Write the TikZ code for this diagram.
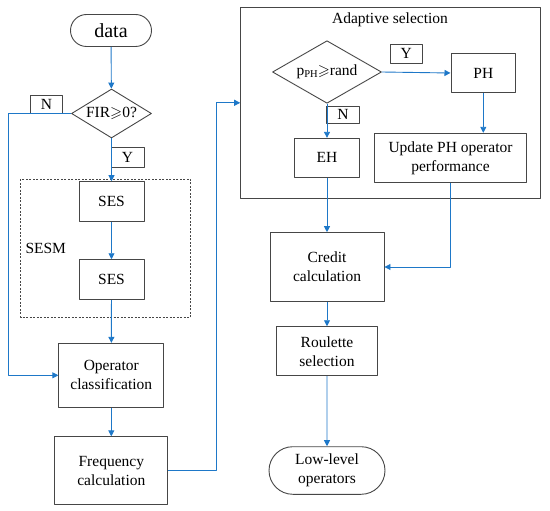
\documentclass[tikz,border=0pt]{standalone}
\usepackage{amssymb}
\usepackage{fontspec}
\setmainfont{Liberation Serif}
\usetikzlibrary{arrows.meta,shapes.geometric,shapes.misc}
\definecolor{flowblue}{RGB}{30,120,200}
\definecolor{edgegray}{RGB}{70,70,70}
\begin{document}
\begin{tikzpicture}[x=1pt, y=-1pt, line join=round, font=\fontsize{15.5}{19}\selectfont, >={Triangle[length=6pt,width=6pt]},
		box/.style={draw=edgegray, line width=0.9pt, align=center, inner sep=0pt},
		term/.style={box, rounded rectangle},
		dec/.style={box, diamond, aspect=1.6},
		lab/.style={draw=edgegray, line width=0.8pt, inner sep=0pt},
		arr/.style={->, draw=flowblue, line width=0.9pt}]
		\useasboundingbox (0,0) rectangle (550,511);
		% left column
		\node[term, minimum width=81pt, minimum height=32pt, font=\fontsize{20}{24}\selectfont] (data) at (111,30.5) {data};
		\node[dec, minimum width=80pt, minimum height=49pt] (fir) at (111.5,113.5) {FIR$\geqslant$0?};
		\node[lab, minimum width=32pt, minimum height=18pt] (firN) at (46.5,104) {N};
		\node[lab, minimum width=33pt, minimum height=19.6pt] (firY) at (127.5,157.5) {Y};
		\draw[edgegray, dashed, dash pattern=on 2pt off 1.5pt, line width=0.8pt] (20.7,179.3) rectangle (190.7,317.3);
		\node[anchor=west] (sesm) at (22,248) {SESM};
		\node[box, minimum width=65pt, minimum height=40pt] (ses1) at (111.5,201.7) {SES};
		\node[box, minimum width=65pt, minimum height=40pt] (ses2) at (111.5,279.7) {SES};
		\node[box, minimum width=105pt, minimum height=64pt] (opc) at (111.3,375.3) {Operator\\classification};
		\node[box, minimum width=113pt, minimum height=68pt] (freq) at (111.3,470.8) {Frequency\\calculation};
		% adaptive selection
		\node[box, minimum width=299.3pt, minimum height=191pt] (adapt) at (390.3,102.8) {};
		\node (title) at (390,20) {Adaptive selection};
		\node[dec, minimum width=109pt, minimum height=62.6pt] (ptest) at (327,72) {p\raisebox{-0.25ex}{\fontsize{10.5}{12}\selectfont PH}$\geqslant$rand};
		\node[lab, minimum width=32.7pt, minimum height=19pt] (pY) at (406.3,53.8) {Y};
		\node[lab, minimum width=32.6pt, minimum height=17.3pt] (pN) at (343,114.7) {N};
		\node[box, minimum width=64.7pt, minimum height=39.4pt] (ph) at (483.3,73) {PH};
		\node[box, minimum width=64.3pt, minimum height=39pt] (eh) at (327,157.8) {EH};
		\node[box, minimum width=152.4pt, minimum height=49pt] (upd) at (450.5,157.8) {Update PH operator\\performance};
		% right column
		\node[box, minimum width=114pt, minimum height=68.7pt] (credit) at (327,267) {Credit\\calculation};
		\node[box, minimum width=100.7pt, minimum height=49pt] (roul) at (327,351.2) {Roulette\\selection};
		\node[term, minimum width=116pt, minimum height=47.6pt] (low) at (327,470.5) {Low-level\\operators};
		% connectors
		\coordinate (nleft) at (8,113.5);
		\coordinate (fturn) at (216.7,470.8);
		\draw[arr] (data) -- (fir);
		\draw[arr] (fir.west) -- (nleft) |- (opc.west);
		\draw[arr] (fir) -- (ses1);
		\draw[arr] (ses1) -- (ses2);
		\draw[arr] (ses2) -- (opc);
		\draw[arr] (opc) -- (freq);
		\draw[arr] (freq.east) -- (fturn) |- (adapt.west);
		\draw[arr] (ptest.east) -- (ph.west);
		\draw[arr] (ptest.south) -- (eh.north);
		\draw[arr] (ph.south) -- (ph.south |- upd.north);
		\draw[arr] (eh) -- (credit);
		\draw[arr] (upd.south) |- (credit.east);
		\draw[arr] (credit) -- (roul);
		\draw[arr] (roul) -- (low);
\end{tikzpicture}
\end{document}
